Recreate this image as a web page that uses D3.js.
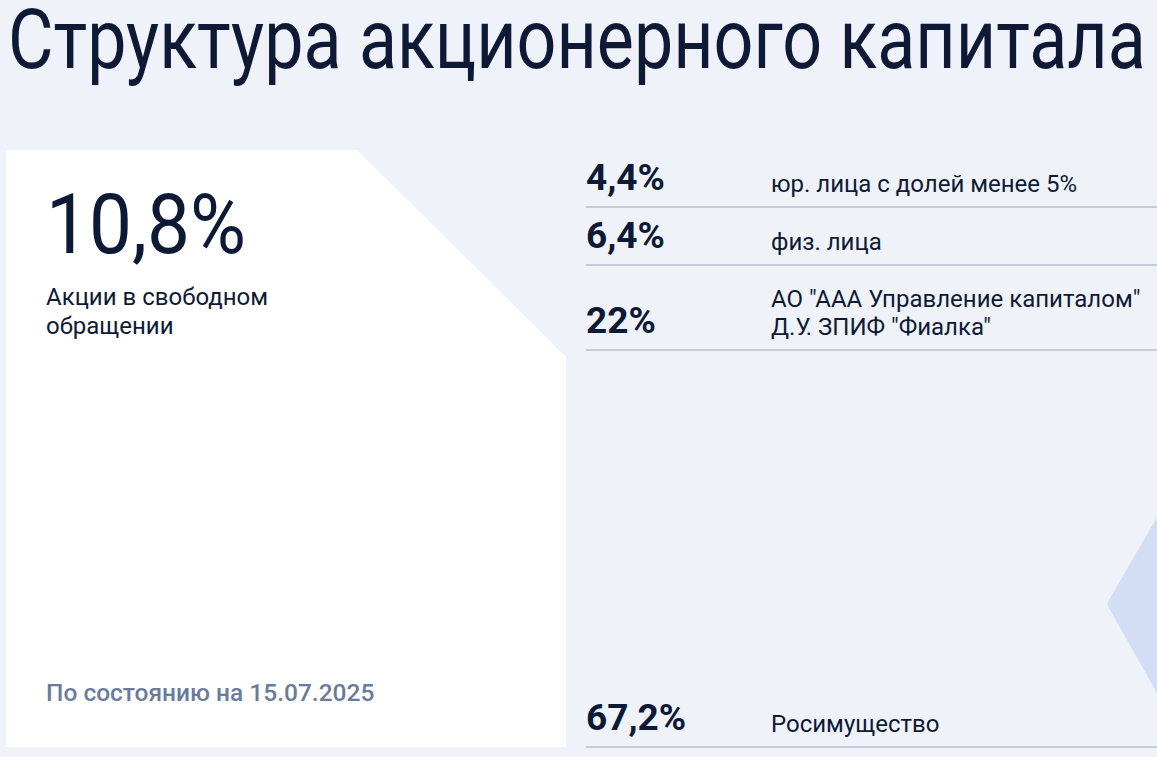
<!DOCTYPE html>
<html lang="ru">
<head>
<meta charset="utf-8">
<script src="https://cdn.jsdelivr.net/npm/d3@7"></script>
<style>
  body { margin: 0; background: #eff3f9; font-family: Roboto, "Noto Sans", sans-serif; }
  svg { display: block; }
</style>
</head>
<body>
<div id="chart"></div>
<script>
// ---- data ----
const title = "Структура акционерного капитала";
const holders = [
  ["юр. лица с долей менее 5%"],
  ["физ. лица"],
  ['АО "ААА Управление капиталом"', 'Д.У. ЗПИФ "Фиалка"'],
  ["Росимущество"]
];
const shares = [4.4, 6.4, 22, 67.2];
const freeFloat = [true, true, false, false];
const freeFloatLabel = ["Акции в свободном", "обращении"];
const asOfText = "По состоянию на 15.07.2025";

const width = 1157, height = 757;
const ink = "#0e1a35";

const ru = d3.formatLocale({ decimal: ",", thousands: "\u00a0", grouping: [3], currency: ["", " ₽"] });
const fmt = v => ru.format(".3~r")(v) + "%";

const svg = d3.select("#chart")
  .append("svg")
    .attr("width", width)
    .attr("height", height)
    .attr("viewBox", `0 0 ${width} ${height}`);

svg.append("rect")
  .attr("width", width)
  .attr("height", height)
  .attr("fill", "#eff3f9");

// big type is set narrow: squeeze it to the wanted width
function narrow(sel, x, targetW) {
  const w = sel.node().getComputedTextLength();
  sel.attr("transform", `translate(${x},0) scale(${targetW / w},1)`);
}

// Title
const titleText = svg.append("text")
  .attr("x", 0)
  .attr("y", 68)
  .attr("fill", ink)
  .style("font-size", "84px")
  .style("font-weight", 400)
  .text(title);
narrow(titleText, 8, 1138);

// decorative shape on the right
svg.append("path")
  .attr("d", "M1157,517 L1109,600 Q1106,604 1109,608 L1157,693 Z")
  .attr("fill", "#d3def5");

// White panel with cut corner
const panel = { x0: 6, x1: 566, y0: 150, y1: 747, cut: 357, cutY: 357 };
svg.append("path")
  .attr("d", `M${panel.x0},${panel.y0} L${panel.cut},${panel.y0} L${panel.x1},${panel.cutY} L${panel.x1},${panel.y1} L${panel.x0},${panel.y1} Z`)
  .attr("fill", "#ffffff");

const ffTotal = d3.sum(shares.filter((d, i) => freeFloat[i]));

const bigNum = svg.append("text")
  .attr("x", 0)
  .attr("y", 253)
  .attr("fill", ink)
  .style("font-size", "84px")
  .style("font-weight", 400)
  .text(fmt(ffTotal));
narrow(bigNum, 46, 200);

svg.append("text")
  .attr("x", 46)
  .attr("y", 305)
  .attr("fill", ink)
  .style("font-size", "24px")
  .selectAll("tspan")
  .data(freeFloatLabel)
  .enter()
  .append("tspan")
    .attr("x", 46)
    .attr("dy", (d, i) => i ? 29 : 0)
    .text(d => d);

svg.append("text")
  .attr("x", 46)
  .attr("y", 701)
  .attr("fill", "#6b7b9c")
  .style("font-size", "24.5px")
  .style("font-weight", 500)
  .text(asOfText);

// ---- list of shareholders ----
const listX0 = 586, listX1 = width, labelX = 771;
const listTop = 149, listBottom = 747;
const lineStep = 27;

// row heights grow with label lines, last row fills the rest
const rowH = holders.map((h, i) => i < holders.length - 1 ? 31 + lineStep * h.length : 0);
rowH[rowH.length - 1] = listBottom - listTop - d3.sum(rowH);
const bottoms = Array.from(d3.cumsum(rowH), c => listTop + c);

const rows = shares.map((s, i) => ({ share: s, label: holders[i], bottom: bottoms[i] }));

const y = d3.scaleLinear().domain([0, listBottom]).range([0, listBottom]);

const row = svg.selectAll("g.row")
  .data(rows)
  .enter()
  .append("g")
    .attr("class", "row");

row.append("line")
  .attr("x1", listX0)
  .attr("x2", listX1)
  .attr("y1", d => y(d.bottom))
  .attr("y2", d => y(d.bottom))
  .attr("stroke", "#c3cbdd")
  .attr("stroke-width", 2);

row.append("text")
  .attr("x", listX0)
  .attr("y", d => y(d.bottom) - 17)
  .attr("fill", ink)
  .style("font-size", "37px")
  .style("font-weight", 700)
  .text(d => fmt(d.share));

row.append("text")
  .attr("fill", ink)
  .style("font-size", "24px")
  .selectAll("tspan")
  .data(d => d.label.map((t, j) => ({ t, y: y(d.bottom) - 15 - (d.label.length - 1 - j) * 28 })))
  .enter()
  .append("tspan")
    .attr("x", labelX)
    .attr("y", d => d.y)
    .text(d => d.t);
</script>
</body>
</html>
